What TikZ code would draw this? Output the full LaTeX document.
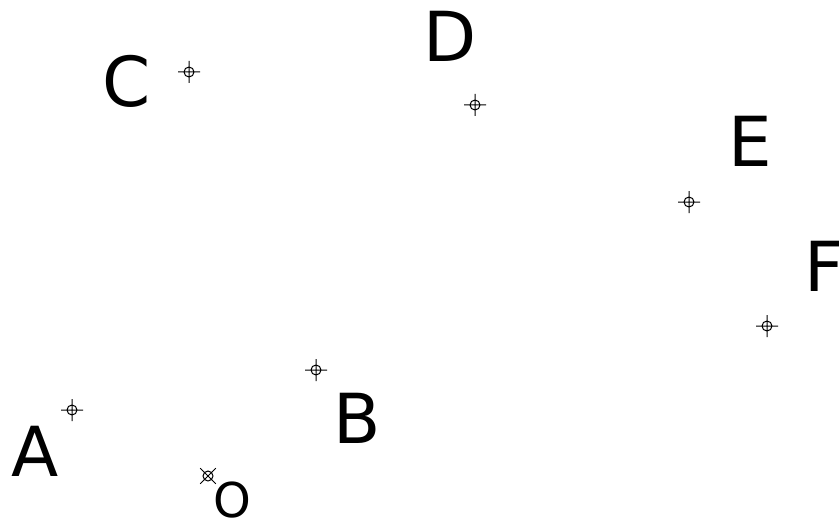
\documentclass[tikz,border=0pt]{standalone}
\usepackage{fontspec}
\setmainfont{DejaVu Sans}
\begin{document}
\begin{tikzpicture}[x=1pt,y=-1pt,
  lbl/.style={inner sep=0pt,font=\fontsize{69}{69}\selectfont},
  mk/.pic={\draw[line width=1pt] (0,0) circle (5) (-11,0) -- (11,0) (0,-11) -- (0,11);}]
\useasboundingbox (0,0) rectangle (839,519);
\pic at (189,72) {mk}; \coordinate (mC) at (189,72);
\pic at (475,105) {mk}; \coordinate (mD) at (475,105);
\pic at (689,202) {mk}; \coordinate (mE) at (689,202);
\pic at (767,326) {mk}; \coordinate (mF) at (767,326);
\pic at (316,370) {mk}; \coordinate (mB) at (316,370);
\pic at (72,410) {mk}; \coordinate (mA) at (72,410);
\pic[rotate=45] at (208,476) {mk}; \coordinate (mO) at (208,476);
\node[lbl] (A) at (35,451) {A};
\node[lbl,font=\fontsize{48}{48}\selectfont] (O) at (232,500.5) {O};
\node[lbl] (B) at (357,418) {B};
\node[lbl] (C) at (127,81) {C};
\node[lbl] (D) at (450,36) {D};
\node[lbl] (E) at (750,141) {E};
\node[lbl] (F) at (824,266) {F};
\end{tikzpicture}
\end{document}
